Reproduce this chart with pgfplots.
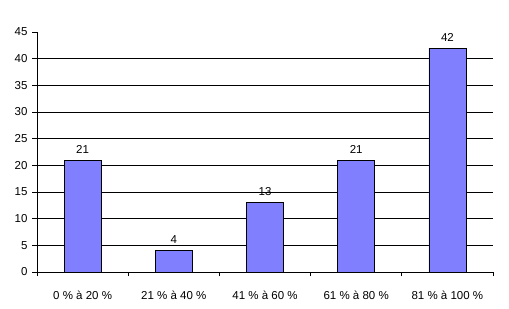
\documentclass[border=0pt]{standalone}
\usepackage{fontspec}
\setmainfont{Liberation Sans}
\usepackage{pgfplots}
\pgfplotsset{compat=1.18}
\definecolor{barblue}{HTML}{8080FF}
\begin{document}
\begin{tikzpicture}
\begin{axis}[
  scale only axis,
  width=456bp, height=240bp,
  xmin=-0.5, xmax=4.5,
  ymin=0, ymax=45,
  axis lines=left,
  axis line style={-, line width=0.8bp},
  ytick={0,5,...,45},
  xtick={0,1,2,3,4},
  xticklabels={0 \% à 20 \%, 21 \% à 40 \%, 41 \% à 60 \%, 61 \% à 80 \%, 81 \% à 100 \%},
  major x tick style={draw=none},
  minor xtick={-0.5,0.5,1.5,2.5,3.5,4.5},
  minor x tick style={line width=0.8bp, black},
  minor tick length=4bp,
  major tick length=5bp,
  y tick style={line width=0.8bp, black},
  tick align=outside,
  extra y ticks={5,10,...,40},
  extra y tick labels={},
  extra y tick style={grid=major, major tick length=0pt},
  major grid style={black, line width=0.8bp},
  tick label style={font=\fontsize{11.5bp}{13bp}\selectfont},
  xticklabel style={yshift=-11bp},
  yticklabel style={xshift=-1bp},
  /pgf/number format/assume math mode=true,
  nodes near coords,
  nodes near coords style={font=\fontsize{11.5bp}{13bp}\selectfont, yshift=3bp},
  clip=false,
]
\addplot[ybar, bar width=37bp, fill=barblue, draw=black, line width=0.8bp] coordinates {(0,21) (1,4) (2,13) (3,21) (4,42)};
\coordinate (ll) at (rel axis cs:0,0);
\coordinate (ur) at (rel axis cs:1,1);
\end{axis}
\pgfresetboundingbox
\path ([shift={(-37bp,-36bp)}]ll) rectangle ([shift={(16bp,32bp)}]ur);
\end{tikzpicture}
\end{document}
